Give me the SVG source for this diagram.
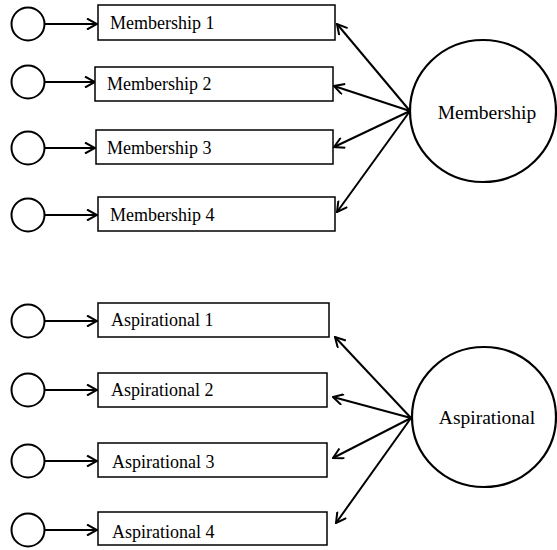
<svg xmlns="http://www.w3.org/2000/svg" width="557" height="550" viewBox="0 0 557 550">
  <defs>
    <marker id="arrow" viewBox="0 0 12 12" refX="11" refY="6" markerWidth="12" markerHeight="12" markerUnits="userSpaceOnUse" orient="auto">
      <path d="M1,0.5 L11,6 L1,11.5" fill="none" stroke="#000" stroke-width="2" stroke-linejoin="miter"/>
    </marker>
  </defs>
  <style>
    .err { fill: #fff; stroke: #000; stroke-width: 2; }
    .latent { fill: #fff; stroke: #000; stroke-width: 2.2; }
    .box { fill: #fff; stroke: #000; stroke-width: 1.5; }
    .lbl { font-size: 18px; fill: #000; }
    .big { font-size: 19.5px; fill: #000; text-anchor: middle; }
    .edge { fill: none; stroke: #000; stroke-width: 2; marker-end: url(#arrow); }
  </style>

  <!-- connectors -->
  <g id="connectors">
    <!-- error terms to indicators -->
    <line class="edge" x1="45" y1="24" x2="97" y2="24"/>
    <line class="edge" x1="45" y1="82" x2="95" y2="82"/>
    <line class="edge" x1="45" y1="148" x2="95" y2="148"/>
    <line class="edge" x1="45" y1="215" x2="97" y2="215"/>
    <line class="edge" x1="45" y1="321" x2="97" y2="321"/>
    <line class="edge" x1="45" y1="390" x2="97" y2="390"/>
    <line class="edge" x1="45" y1="461" x2="97" y2="461"/>
    <line class="edge" x1="45" y1="530" x2="97" y2="530"/>
    <!-- Membership loadings -->
    <line class="edge" x1="410" y1="111" x2="337" y2="24"/>
    <line class="edge" x1="410" y1="111" x2="334" y2="86"/>
    <line class="edge" x1="410" y1="111" x2="334" y2="147"/>
    <line class="edge" x1="410" y1="111" x2="337" y2="212"/>
    <!-- Aspirational loadings -->
    <line class="edge" x1="411" y1="418" x2="335" y2="337"/>
    <line class="edge" x1="411" y1="418" x2="333" y2="397"/>
    <line class="edge" x1="411" y1="418" x2="333" y2="458"/>
    <line class="edge" x1="411" y1="418" x2="336" y2="523"/>
  </g>

  <!-- error terms -->
  <g id="e1"><circle class="err" cx="28" cy="24" r="16.5"/></g>
  <g id="e2"><circle class="err" cx="28" cy="82" r="16.5"/></g>
  <g id="e3"><circle class="err" cx="28" cy="148" r="16.5"/></g>
  <g id="e4"><circle class="err" cx="28" cy="215" r="16.5"/></g>
  <g id="e5"><circle class="err" cx="28" cy="321" r="16.5"/></g>
  <g id="e6"><circle class="err" cx="28" cy="390" r="16.5"/></g>
  <g id="e7"><circle class="err" cx="28" cy="461" r="16.5"/></g>
  <g id="e8"><circle class="err" cx="28" cy="530" r="16.5"/></g>

  <!-- indicators and latent constructs -->
  <g font-family="'Liberation Serif', serif">
    <g id="membership1"><rect class="box" x="98" y="5" width="237" height="35"/><text class="lbl" x="110" y="29">Membership 1</text></g>
    <g id="membership2"><rect class="box" x="95" y="67" width="238" height="34"/><text class="lbl" x="107" y="90">Membership 2</text></g>
    <g id="membership3"><rect class="box" x="96" y="130" width="237" height="34"/><text class="lbl" x="107" y="154">Membership 3</text></g>
    <g id="membership4"><rect class="box" x="98" y="197" width="237" height="34"/><text class="lbl" x="110" y="221">Membership 4</text></g>
    <g id="aspirational1"><rect class="box" x="98" y="303" width="231" height="34"/><text class="lbl" x="111" y="326">Aspirational 1</text></g>
    <g id="aspirational2"><rect class="box" x="98" y="373" width="229" height="34"/><text class="lbl" x="111" y="396">Aspirational 2</text></g>
    <g id="aspirational3"><rect class="box" x="98" y="443" width="229" height="34"/><text class="lbl" x="112" y="468">Aspirational 3</text></g>
    <g id="aspirational4"><rect class="box" x="98" y="512" width="229" height="33"/><text class="lbl" x="112" y="538">Aspirational 4</text></g>

    <g id="membership"><ellipse class="latent" cx="483" cy="111" rx="73" ry="71"/><text class="big" x="487" y="119">Membership</text></g>
    <g id="aspirational"><ellipse class="latent" cx="484" cy="417" rx="72" ry="70"/><text class="big" x="487" y="424">Aspirational</text></g>
  </g>
</svg>
